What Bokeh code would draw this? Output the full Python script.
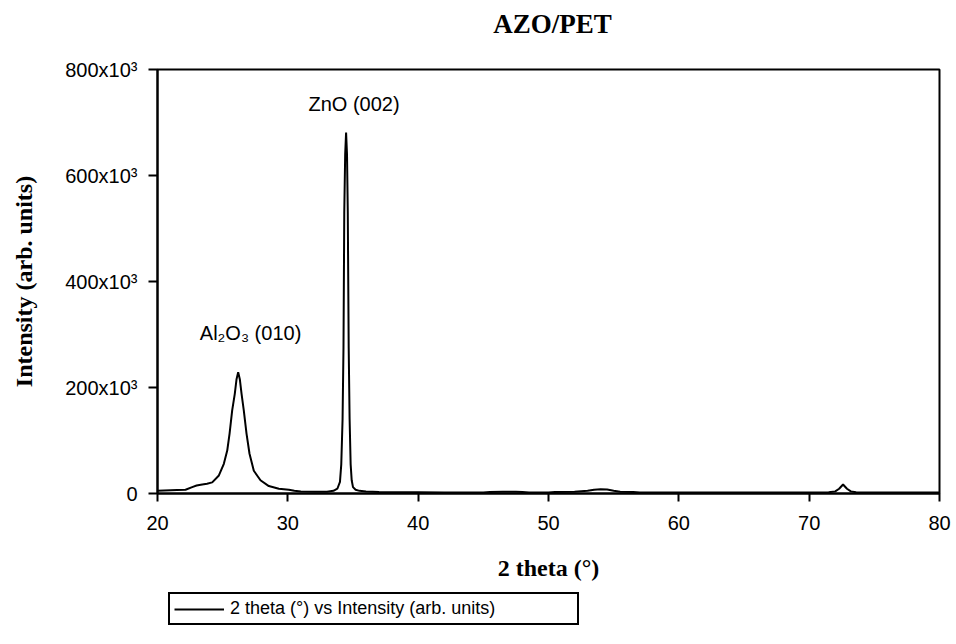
from bokeh.plotting import figure
from bokeh.layouts import column
from bokeh.models import Range1d, FixedTicker, Label, Legend, LegendItem
from bokeh.embed import file_html
from bokeh.resources import INLINE

# ---- data ----
two_theta = [20.0, 20.5, 21.0, 21.5, 22.15, 22.66, 23.0, 23.43, 23.8, 24.2, 24.71, 25.09,
             25.35, 25.53, 25.73, 25.93, 26.06, 26.19, 26.32, 26.45, 26.62, 26.83, 27.06,
             27.39, 27.9, 28.54, 29.31, 30.08, 30.5, 31.0, 32.0, 33.0, 33.5, 33.8, 34.0,
             34.1, 34.2, 34.27, 34.33, 34.4, 34.47, 34.54, 34.6, 34.67, 34.74, 34.82, 34.9,
             35.0, 35.2, 35.5, 36.0, 37.0, 38.0, 40.0, 42.0, 45.0, 45.5, 46.5, 47.5, 48.0,
             48.5, 50.0, 50.5, 52.0, 53.0, 53.5, 54.0, 54.5, 55.0, 55.5, 56.5, 57.0, 60.0,
             65.0, 70.0, 71.5, 72.0, 72.3, 72.6, 72.9, 73.2, 73.6, 75.0, 78.0, 80.0]
intensity = [5000, 5500, 6000, 6500, 7000, 12000, 15000, 17000, 18500, 21000, 34000, 56000,
             81000, 113000, 157000, 188000, 215000, 229000, 215000, 188000, 157000, 113000, 75000,
             43000, 25000, 14000, 9000, 7000, 5000, 4000, 3500, 3500, 5000, 9000, 22000,
             55000, 140000, 275000, 530000, 640000, 681000, 640000, 530000, 275000, 140000, 55000, 25000,
             12000, 7000, 5000, 4000, 3000, 2500, 2500, 2000, 2000, 3000, 3500, 3500, 3000,
             2000, 2000, 3000, 3500, 5000, 7000, 8000, 7500, 5000, 3500, 3000, 2000, 2000,
             2000, 2000, 2500, 4000, 9000, 17000, 9000, 4000, 2500, 2000, 2000, 2000]

y_ticks = [0, 200000, 400000, 600000, 800000]
y_tick_labels = ["0", "200x10³", "400x10³", "600x10³", "800x10³"]
x_ticks = [20, 30, 40, 50, 60, 70, 80]

title_text = "AZO/PET"
x_label = "2 theta (°)"
y_label = "Intensity (arb. units)"
legend_text = "2 theta (°) vs Intensity (arb. units)"
peak_labels = ["ZnO (002)", "Al₂O₃ (010)"]
peak_label_x = [35.08, 27.14]
peak_label_y = [734000, 302000]

SANS = "Liberation Sans"
SERIF = "Liberation Serif"


def bare_strip(h):
    f = figure(width=956, height=h, output_backend="svg", toolbar_location=None,
               x_range=Range1d(0, 1), y_range=Range1d(0, h),
               x_axis_location=None, y_axis_location=None,
               min_border_left=157, min_border_right=17, min_border_top=0, min_border_bottom=0)
    f.xgrid.visible = False
    f.ygrid.visible = False
    f.outline_line_color = None
    f.background_fill_color = "white"
    f.border_fill_color = "white"
    return f


# ---- title strip ----
pt = bare_strip(40)
pt.add_layout(Label(x=0.505, y=17, text=title_text, text_align="center", text_baseline="middle",
                    text_font=SERIF, text_font_style="bold", text_font_size="27px",
                    text_color="black"))

# ---- main chart ----
p = figure(width=956, height=549, output_backend="svg", toolbar_location=None,
           x_range=Range1d(20, 80), y_range=Range1d(0, 800000),
           min_border_left=157, min_border_right=17, min_border_top=29, min_border_bottom=96)

p.background_fill_color = "white"
p.border_fill_color = "white"
p.outline_line_color = "black"
p.outline_line_width = 2
p.xgrid.visible = False
p.ygrid.visible = False

for ax in (p.xaxis[0], p.yaxis[0]):
    ax.axis_line_width = 2
    ax.axis_line_color = "black"
    ax.major_tick_line_width = 2
    ax.major_tick_line_color = "black"
    ax.major_tick_in = 0
    ax.minor_tick_line_color = None
    ax.major_label_text_font = SANS
    ax.major_label_text_font_size = "20px"
    ax.major_label_text_color = "black"
    ax.axis_label_text_font = SERIF
    ax.axis_label_text_font_style = "bold"
    ax.axis_label_text_font_size = "24px"
    ax.axis_label_text_color = "black"

p.xaxis[0].ticker = FixedTicker(ticks=x_ticks)
p.xaxis[0].major_tick_out = 8
p.xaxis[0].major_label_standoff = 14
p.xaxis[0].axis_label = x_label
p.xaxis[0].axis_label_standoff = 22

p.yaxis[0].ticker = FixedTicker(ticks=y_ticks)
p.yaxis[0].major_label_overrides = {t: l for t, l in zip(y_ticks, y_tick_labels)}
p.yaxis[0].major_tick_out = 9
p.yaxis[0].major_label_standoff = 11
p.yaxis[0].axis_label = y_label
p.yaxis[0].axis_label_standoff = 25

line = p.line(two_theta, intensity, line_color="black", line_width=2)

for txt, lx, ly in zip(peak_labels, peak_label_x, peak_label_y):
    p.add_layout(Label(x=lx, y=ly, text=txt, text_align="center", text_baseline="middle",
                       text_font=SANS, text_font_size="20px", text_color="black"))

# ---- legend strip under the chart ----
pl = bare_strip(55)
# same series; it lies outside this strip's ranges and only feeds the legend swatch
legend_line = pl.line(two_theta, intensity, line_color="black", line_width=2)
legend = Legend(items=[LegendItem(label=legend_text, renderers=[legend_line])],
                location=(11, 19), orientation="vertical",
                label_text_font=SANS, label_text_font_size="18px", label_text_color="black",
                glyph_width=50, glyph_height=20, label_standoff=6, label_width=343,
                padding=4, spacing=0, margin=0,
                border_line_color="black", border_line_width=2, border_line_alpha=1,
                background_fill_color="white", background_fill_alpha=1)
pl.add_layout(legend)

layout = column(pt, p, pl, spacing=0)
open("out.html", "w").write(file_html(layout, INLINE))
